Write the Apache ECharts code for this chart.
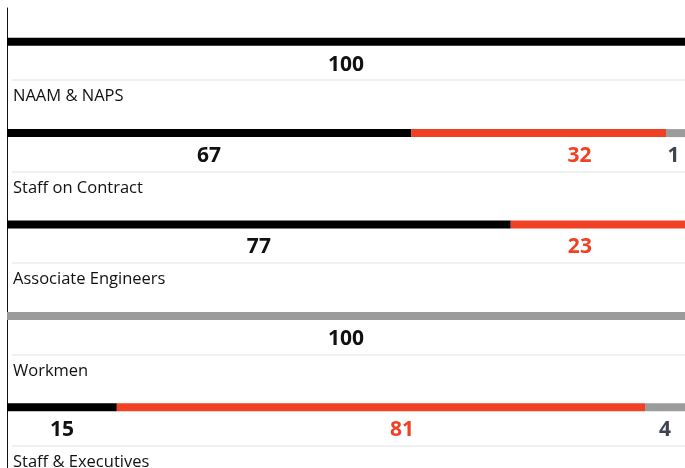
<!DOCTYPE html>
<html>
<head>
<meta charset="utf-8">
<script src="https://cdn.jsdelivr.net/npm/echarts@6/dist/echarts.min.js"></script>
<style>
html,body{margin:0;padding:0;background:#fff;}
#chart{width:685px;height:468px;}
</style>
</head>
<body>
<div id="chart"></div>
<script>
// ---- data ----
const categories = ['NAAM & NAPS', 'Staff on Contract', 'Associate Engineers', 'Workmen', 'Staff & Executives'];
// drawn bar shares (% of full width)
const blackShare = [100, 59.6, 74.3, 0, 16.2];
const redShare   = [0, 37.6, 25.7, 0, 77.9];
const greyShare  = [0, 2.8, 0, 100, 5.9];
// printed numbers under the bars
const blackLabels = ['100', '67', '77', '', '15'];
const redLabels   = ['', '32', '23', '', '81'];
const greyLabels  = ['', '1', '', '100', '4'];

// ---- styling ----
const BLACK = '#000000', RED = '#f04124', GREY = '#9b9b9b';
const NUM_FONT = '"Open Sans", sans-serif';
const redNudge  = [0, 41, -18, 0, 21];
const greyNudge = [0, -2, 0, 0, 0];
const LABEL_DY = 23;

function items(values, labels, color, nudge, labelColors) {
  return values.map((v, i) => ({
    value: v,
    label: {
      show: labels[i] !== '',
      formatter: labels[i],
      offset: [nudge ? nudge[i] : 0, LABEL_DY],
      color: labelColors ? labelColors[i] : color
    }
  }));
}

const labelBase = {
  position: 'inside',
  fontFamily: NUM_FONT,
  fontWeight: 'bold',
  fontSize: 21
};

const chart = echarts.init(document.getElementById('chart'), null, {renderer: 'canvas'});
const option = {
  animation: false,
  backgroundColor: '#fff',
  grid: [
    {left: 7, right: 0, top: -4, height: 457, outerBoundsMode: 'none', containLabel: false},
    {left: 12, right: 0, top: -11.3, height: 457, outerBoundsMode: 'none', containLabel: false},
    {left: 7, right: 0, top: 8, bottom: 0, outerBoundsMode: 'none', containLabel: false}
  ],
  xAxis: [
    {gridIndex: 0, type: 'value', min: 0, max: 100, show: false},
    {gridIndex: 1, type: 'value', min: 0, max: 1, show: false},
    {gridIndex: 2, type: 'value', min: 0, max: 1, show: false}
  ],
  yAxis: [
    {
      gridIndex: 0, type: 'category', inverse: true,
      data: categories,
      axisLine: {show: false}, axisTick: {show: false}, splitLine: {show: false},
      axisLabel: {
        show: true, inside: true, interval: 0, margin: 6,
        align: 'left', verticalAlign: 'top', lineHeight: 20,
        padding: [45, 0, 0, 0],
        fontFamily: '"Open Sans", sans-serif', fontSize: 16.5, fontWeight: 500, color: '#111'
      }
    },
    {
      gridIndex: 1, type: 'value', min: 0, max: 5, interval: 1,
      axisLine: {show: false}, axisTick: {show: false}, axisLabel: {show: false},
      splitLine: {show: true, lineStyle: {color: '#ececec', width: 1.5}}
    },
    {
      gridIndex: 2, type: 'value', min: 0, max: 1,
      axisLine: {show: true, onZero: false, lineStyle: {color: '#111', width: 1}},
      axisTick: {show: false}, axisLabel: {show: false}, splitLine: {show: false}
    }
  ],
  series: [
    {
      name: 'Black', type: 'bar', stack: 'total', barWidth: 8,
      xAxisIndex: 0, yAxisIndex: 0,
      itemStyle: {color: BLACK},
      label: labelBase,
      data: items(blackShare, blackLabels, '#111')
    },
    {
      name: 'Red', type: 'bar', stack: 'total', barWidth: 8,
      xAxisIndex: 0, yAxisIndex: 0,
      itemStyle: {color: RED},
      label: labelBase,
      data: items(redShare, redLabels, RED, redNudge)
    },
    {
      name: 'Grey', type: 'bar', stack: 'total', barWidth: 8,
      xAxisIndex: 0, yAxisIndex: 0,
      itemStyle: {color: GREY},
      label: labelBase,
      data: items(greyShare, greyLabels, '#3d4550', greyNudge, ['#3d4550', '#3d4550', '#3d4550', '#111', '#3d4550'])
    }
  ]
};
chart.setOption(option);
</script>
</body>
</html>
